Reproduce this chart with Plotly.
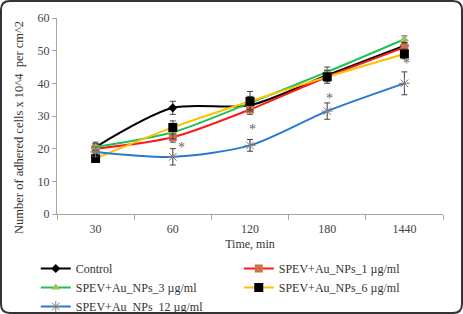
import plotly.graph_objects as go

categories = ["30", "60", "120", "180", "1440"]
control = [20.5, 32.5, 33.3, 42.5, 51.5]
au1 = [20.0, 23.5, 32.0, 42.0, 51.0]
au3 = [20.5, 25.0, 34.0, 43.5, 53.5]
au6 = [17.0, 26.5, 34.5, 42.0, 49.0]
au12 = [19.0, 17.5, 21.0, 31.5, 40.0]
err_control = [1.5, 2.0, 2.0, 1.5, 1.5]
err_au1 = [1.5, 1.5, 1.5, 1.5, 1.5]
err_au3 = [1.0, 2.0, 2.0, 1.5, 1.0]
err_au6 = [1.0, 2.0, 3.0, 2.0, 1.5]
err_au12 = [1.5, 2.5, 1.8, 2.5, 3.5]
star_x = ["60", "120", "180", "1440"]
star_y = [20.5, 26.0, 35.5, 46.0]

serif = "Liberation Serif"
errc = "#444444"

series = [
    ("Control", control, err_control, "black", dict(symbol="diamond", size=7, color="black")),
    ("SPEV+Au_NPs_1 µg/ml", au1, err_au1, "#FF1A1A", dict(symbol="square", size=8, color="#D0704A")),
    ("SPEV+Au_NPs_3 µg/ml", au3, err_au3, "#22C05A", dict(symbol="triangle-up", size=8, color="#9BC25A")),
    ("SPEV+Au_NPs_6 µg/ml", au6, err_au6, "#FFC000", dict(symbol="square", size=9, color="black")),
    ("SPEV+Au_NPs_12 µg/ml", au12, err_au12, "#2B78D0", dict(symbol="asterisk-open", size=9, color="#7F7F7F",
                                                            line=dict(color="#7F7F7F", width=1))),
]

fig = go.Figure()
for name, vals, err, lc, mk in series:
    fig.add_trace(go.Scatter(
        x=categories, y=vals, name=name, mode="lines+markers",
        line=dict(color=lc, width=2, shape="spline", smoothing=0.8),
        marker=mk,
        error_y=dict(type="data", array=err, color=errc, thickness=1, width=3),
    ))

for i, (sx, sy) in enumerate(zip(star_x, star_y)):
    fig.add_annotation(x=categories.index(sx), y=sy, text="*", showarrow=False,
                       xshift=9 if i == 0 else 2,
                       font=dict(family=serif, size=14, color="#666666"))

# y-axis title as annotation (positioned like the reference)
fig.add_annotation(xref="paper", yref="paper", x=-0.098, y=0.44, xanchor="center", yanchor="middle",
                   textangle=-90,
                   text="Number of adhered cells x 10^4  per cm^2", showarrow=False,
                   font=dict(family=serif, size=12.5, color="#333333"))

x0, x1, rx = -0.1451, 1.0492, 0.0233
yt, yb, ry = 1.0867, -0.5051, 0.046
path = (f"M {x0+rx},{yt} L {x1-rx},{yt} Q {x1},{yt} {x1},{yt-ry} L {x1},{yb+ry} "
        f"Q {x1},{yb} {x1-rx},{yb} L {x0+rx},{yb} Q {x0},{yb} {x0},{yb+ry} "
        f"L {x0},{yt-ry} Q {x0},{yt} {x0+rx},{yt} Z")
fig.add_shape(type="path", xref="paper", yref="paper", layer="above",
              path=path, line=dict(color="#333333", width=2))

fig.update_layout(
    width=463, height=314,
    margin=dict(l=57, r=20, t=18, b=100, autoexpand=False),
    paper_bgcolor="white", plot_bgcolor="white",
    font=dict(family=serif, size=12, color="#333333"),
    showlegend=True,
    legend=dict(orientation="h", x=-0.055, y=-0.204, xanchor="left", yanchor="top",
                entrywidth=158, entrywidthmode="pixels", tracegroupgap=0,
                itemwidth=30, font=dict(family=serif, size=12, color="#333333"),
                bgcolor="rgba(0,0,0,0)"),
    xaxis=dict(type="category", range=[-0.5, 4.5], showline=True, linecolor="#A6A6A6", linewidth=1,
               ticks="outside", tickson="boundaries", ticklen=5, tickcolor="#A6A6A6",
               showgrid=False, zeroline=False, tickangle=0, automargin=False,
               ticklabelstandoff=4,
               tickfont=dict(family=serif, size=12, color="#444444"),
               title=dict(text="Time, min", font=dict(family=serif, size=12, color="#333333"), standoff=4)),
    yaxis=dict(range=[0, 60], dtick=10, showline=True, linecolor="#A6A6A6", linewidth=1,
               ticks="outside", ticklen=4, tickcolor="#A6A6A6", showgrid=False, zeroline=False,
               automargin=False,
               tickfont=dict(family=serif, size=12, color="#444444")),
)

fig.write_html("out.html")
